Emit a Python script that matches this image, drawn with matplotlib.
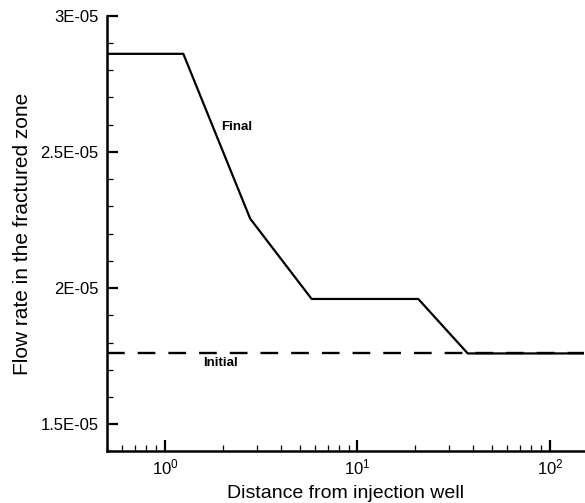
import numpy as np
import matplotlib
matplotlib.use("Agg")
import matplotlib.pyplot as plt
from matplotlib.ticker import LogLocator, MultipleLocator, FixedLocator

plt.rcParams['font.family'] = ['Liberation Sans', 'DejaVu Sans']
plt.rcParams['mathtext.fontset'] = 'custom'
plt.rcParams['mathtext.rm'] = 'Liberation Sans'

# data
dist_final = [0.5, 1.245, 2.77, 5.78, 20.7, 37.4, 150]
flow_final = [2.86e-5, 2.86e-5, 2.255e-5, 1.96e-5, 1.96e-5, 1.76e-5, 1.76e-5]
dist_initial = [0.5, 150]
flow_initial = [1.76e-5, 1.76e-5]
ytick_vals = [1.5e-5, 2e-5, 2.5e-5, 3e-5]
ytick_labels = ["1.5E-05", "2E-05", "2.5E-05", "3E-05"]

fig = plt.figure(figsize=(5.85, 5.03), dpi=100)
ax = fig.add_axes([0.183, 0.1024, 0.815, 0.8664])

ax.plot(dist_initial, flow_initial, color="black", lw=1.7, dashes=(7.5, 5.5))
ax.plot(dist_final, flow_final, color="black", lw=1.6)

ax.set_xscale("log")
ax.set_xlim(0.5, 150)
ax.set_ylim(1.4e-5, 3e-5)

ax.yaxis.set_major_locator(FixedLocator(ytick_vals))
ax.set_yticklabels(ytick_labels)
ax.yaxis.set_minor_locator(MultipleLocator(1e-6))
ax.xaxis.set_major_locator(LogLocator(base=10))
ax.xaxis.set_minor_locator(LogLocator(base=10, subs=np.arange(2, 10)))
ax.xaxis.set_minor_formatter(plt.NullFormatter())

for s in ["top", "right"]:
    ax.spines[s].set_visible(False)
for s in ["left", "bottom"]:
    ax.spines[s].set_linewidth(1.8)

ax.tick_params(which="major", direction="in", length=8, width=1.6, labelsize=12)
ax.tick_params(which="minor", direction="in", length=4, width=0.9)
ax.tick_params(axis="y", pad=6)
ax.tick_params(axis="x", pad=4)

ax.set_xlabel("Distance from injection well", fontsize=14, labelpad=6)
ax.set_ylabel("Flow rate in the fractured zone", fontsize=15, labelpad=6)

ax.text(2.37, 2.59e-5, "Final", fontsize=9.5, fontweight="bold", ha="center", va="center")
ax.text(1.95, 1.7265e-5, "Initial", fontsize=9.5, fontweight="bold", ha="center", va="center")

fig.savefig("out.png", dpi=100)
